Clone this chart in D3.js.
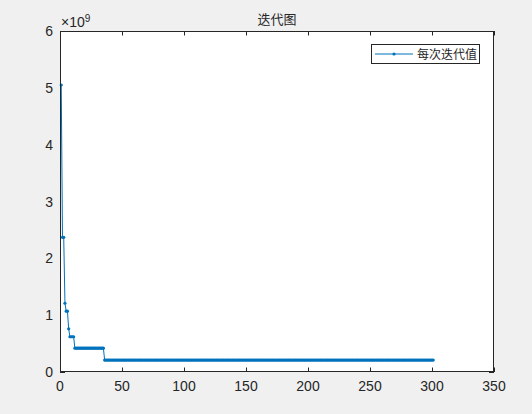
<!DOCTYPE html>
<html><head><meta charset="utf-8">
<script src="https://cdn.jsdelivr.net/npm/d3@7"></script>
<style>
html,body{margin:0;padding:0;background:#f0f0f0;}
svg{display:block;}
text{font-family:"Liberation Sans",Arial,sans-serif;fill:#262626;}
.cjk{font-family:"Noto Sans CJK SC",sans-serif;}
</style></head>
<body>
<svg id="c" width="532" height="414"></svg>
<script>
// Data: iteration value runs (value in units of 1e9, number of iterations it holds)
const runValues = [5.05, 2.37, 1.21, 1.07, 0.76, 0.62, 0.42, 0.21];
const runLengths = [1, 2, 1, 2, 1, 4, 24, 266];
const xTicks = [0, 50, 100, 150, 200, 250, 300, 350];
const yTicks = [0, 1, 2, 3, 4, 5, 6];
const titleText = "迭代图";
const legendText = "每次迭代值";

const series = [];
runValues.forEach((v, i) => { for (let k = 0; k < runLengths[i]; k++) series.push(v * 1e9); });
const data = series.map((v, i) => ({x: i + 1, y: v}));

const svg = d3.select("#c");
const L = 60, R = 494, T = 31, B = 372;
const x = d3.scaleLinear().domain([0, 350]).range([L, R]);
const y = d3.scaleLinear().domain([0, 6e9]).range([B, T]);
const color = "#0072BD", axc = "#262626";

svg.append("rect").attr("x", L).attr("y", T).attr("width", R - L).attr("height", B - T).attr("fill", "#fff");

// line
svg.append("path").datum(data)
  .attr("fill", "none").attr("stroke", color).attr("stroke-width", 1)
  .attr("d", d3.line().x(d => x(d.x)).y(d => y(d.y)));
svg.append("g").selectAll("circle").data(data).join("circle")
  .attr("cx", d => x(d.x)).attr("cy", d => y(d.y)).attr("r", 1.6).attr("fill", color);

// axes box
svg.append("rect").attr("x", L + 0.5).attr("y", T + 0.5).attr("width", R - L - 1).attr("height", B - T - 1)
  .attr("fill", "none").attr("stroke", axc).attr("stroke-width", 1);

const tl = 4.5;
const g = svg.append("g").attr("stroke", axc).attr("stroke-width", 1);
xTicks.forEach(t => {
  const px = Math.round(x(t)) + 0.5;
  g.append("line").attr("x1", px).attr("x2", px).attr("y1", B).attr("y2", B - tl);
  g.append("line").attr("x1", px).attr("x2", px).attr("y1", T).attr("y2", T + tl);
});
yTicks.forEach(t => {
  const py = Math.round(y(t)) + 0.5;
  g.append("line").attr("x1", L).attr("x2", L + tl).attr("y1", py).attr("y2", py);
  g.append("line").attr("x1", R).attr("x2", R - tl).attr("y1", py).attr("y2", py);
});
svg.append("g").selectAll("text").data(xTicks).join("text")
  .attr("x", d => x(d)).attr("y", B + 19).attr("text-anchor", "middle")
  .attr("font-size", 14).text(d => d);
svg.append("g").selectAll("text").data(yTicks).join("text")
  .attr("x", L - 7).attr("y", d => y(d * 1e9) + 5).attr("text-anchor", "end")
  .attr("font-size", 14).text(d => d);

// exponent
const ex = svg.append("text").attr("x", 61).attr("y", 27).attr("font-size", 14);
ex.append("tspan").text("×10");
ex.append("tspan").attr("dy", -5).attr("font-size", 10).text("9");

// title
svg.append("text").attr("class", "cjk").attr("x", (L + R) / 2).attr("y", 24)
  .attr("text-anchor", "middle").attr("font-size", 13).text(titleText);

// legend
svg.append("rect").attr("x", 371.5).attr("y", 44.5).attr("width", 108).attr("height", 19)
  .attr("fill", "#fff").attr("stroke", axc).attr("stroke-width", 1);
svg.append("line").attr("x1", 375).attr("x2", 413).attr("y1", 54).attr("y2", 54)
  .attr("stroke", color).attr("stroke-width", 1);
svg.append("circle").attr("cx", 394).attr("cy", 54).attr("r", 1.6).attr("fill", color);
svg.append("text").attr("class", "cjk").attr("x", 417).attr("y", 58.5)
  .attr("font-size", 12).text(legendText);
</script>
</body></html>
